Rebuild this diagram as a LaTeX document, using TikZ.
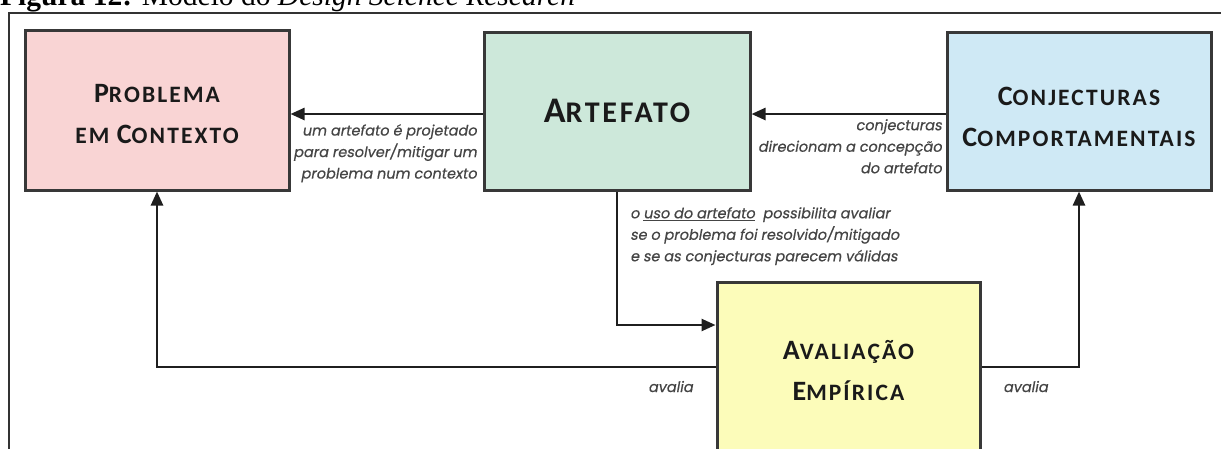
\documentclass[tikz,border=0pt]{standalone}
\usepackage{fontspec}
\setmainfont{Liberation Serif}
\newfontfamily\ttlfont{Carlito}
\newfontfamily\ttlspfont[LetterSpace=9]{Carlito}
\newfontfamily\annfont[FakeSlant=0.18,FakeBold=0.6]{Poppins}
\usetikzlibrary{arrows.meta}
\definecolor{pinkfill}{HTML}{F9D4D4}
\definecolor{greenfill}{HTML}{CDE8DA}
\definecolor{bluefill}{HTML}{CFE9F5}
\definecolor{yellowfill}{HTML}{FCFCBA}
\definecolor{bord}{HTML}{383838}
\definecolor{ttlcol}{HTML}{1A1A1A}
\definecolor{anncol}{HTML}{454545}
\definecolor{framecol}{HTML}{333333}
\newcommand\tbg[2]{{\ttlfont\bfseries\fontsize{#1}{#1}\selectfont #2}}
\newcommand\tsm[2]{{\ttlspfont\bfseries\fontsize{#1}{#1}\selectfont #2}}
\newcommand\lowr[2]{\raisebox{-#1pt}[\height][\depth]{#2}}
\tikzset{
  box/.style={draw=bord, line width=3pt, inner sep=0pt, align=center, text=ttlcol,
    font=\fontsize{28}{41}\selectfont},
  arr/.style={line width=2.5pt, draw=black!88, -{Triangle[length=14pt,width=12pt]}},
  ann/.style={font=\annfont\fontsize{14.5}{21.5}\selectfont, text=anncol, inner sep=0pt},
  framestyle/.style={draw=framecol, line width=2pt}
}
\begin{document}
\begin{tikzpicture}[x=1pt,y=-1pt]
\useasboundingbox (0,0) rectangle (1221,448);
\node[anchor=base west, inner sep=0pt, font=\fontsize{29.5}{30}\selectfont] (cap) at (0,5)
  {\textbf{Figura 12:} Modelo do \textit{Design Science Research}};
\draw[framestyle] (9,470) -- (9,12.5) -- (1240,12.5);

\node[box, fill=pinkfill, minimum width=264pt, minimum height=160pt] (prob) at (157,110)
  {\lowr{4}{\tbg{28}{P}\tsm{23.5}{ROBLEMA}}\\\lowr{4}{\tsm{23.5}{EM }\tbg{28}{C}\tsm{23.5}{ONTEXTO}}};
\node[box, fill=greenfill, minimum width=266pt, minimum height=158pt] (art) at (617,111)
  {\tbg{36}{A}\tsm{30}{RTEFATO}};
\node[box, fill=bluefill, minimum width=264pt, minimum height=158pt] (conj) at (1079,111)
  {\lowr{6}{\tbg{28}{C}\tsm{23.5}{ONJECTURAS}}\\\lowr{6}{\tbg{28}{C}\tsm{23.5}{OMPORTAMENTAIS}}};
\node[box, fill=yellowfill, minimum width=263pt, minimum height=178pt] (aval) at (848.5,371)
  {\tbg{28}{A}\tsm{23.5}{VALIAÇÃO}\\\tbg{28}{E}\tsm{23.5}{MPÍRICA}};

\coordinate (ya) at (0,114);
\coordinate (yb) at (0,325);
\coordinate (yc) at (0,367);
\draw[arr] (art.west |- ya) -- (prob.east |- ya);
\draw[arr] (conj.west |- ya) -- (art.east |- ya);
\draw[arr] (art.south) -- (art.south |- yb) -- (aval.west |- yb);
\draw[arr] (aval.west |- yc) -| (prob.south);
\draw[arr] (aval.east |- yc) -| (conj.south);

\node[ann, align=right, anchor=north east] (lab1) at (477,124)
  {um artefato é projetado\\para resolver/mitigar um\\problema num contexto};
\node[ann, align=right, anchor=north east] (lab2) at (942,119)
  {conjecturas\\direcionam a concepção\\do artefato};
\node[ann, align=left, anchor=north west] (lab3) at (630,207)
  {o \underline{uso do artefato}\ \ possibilita avaliar\\se o problema foi resolvido/mitigado\\e se as conjecturas parecem válidas};
\node[ann, anchor=base west] (lab4) at (648,392) {avalia};
\node[ann, anchor=base west] (lab5) at (1003,392) {avalia};
\end{tikzpicture}
\end{document}
